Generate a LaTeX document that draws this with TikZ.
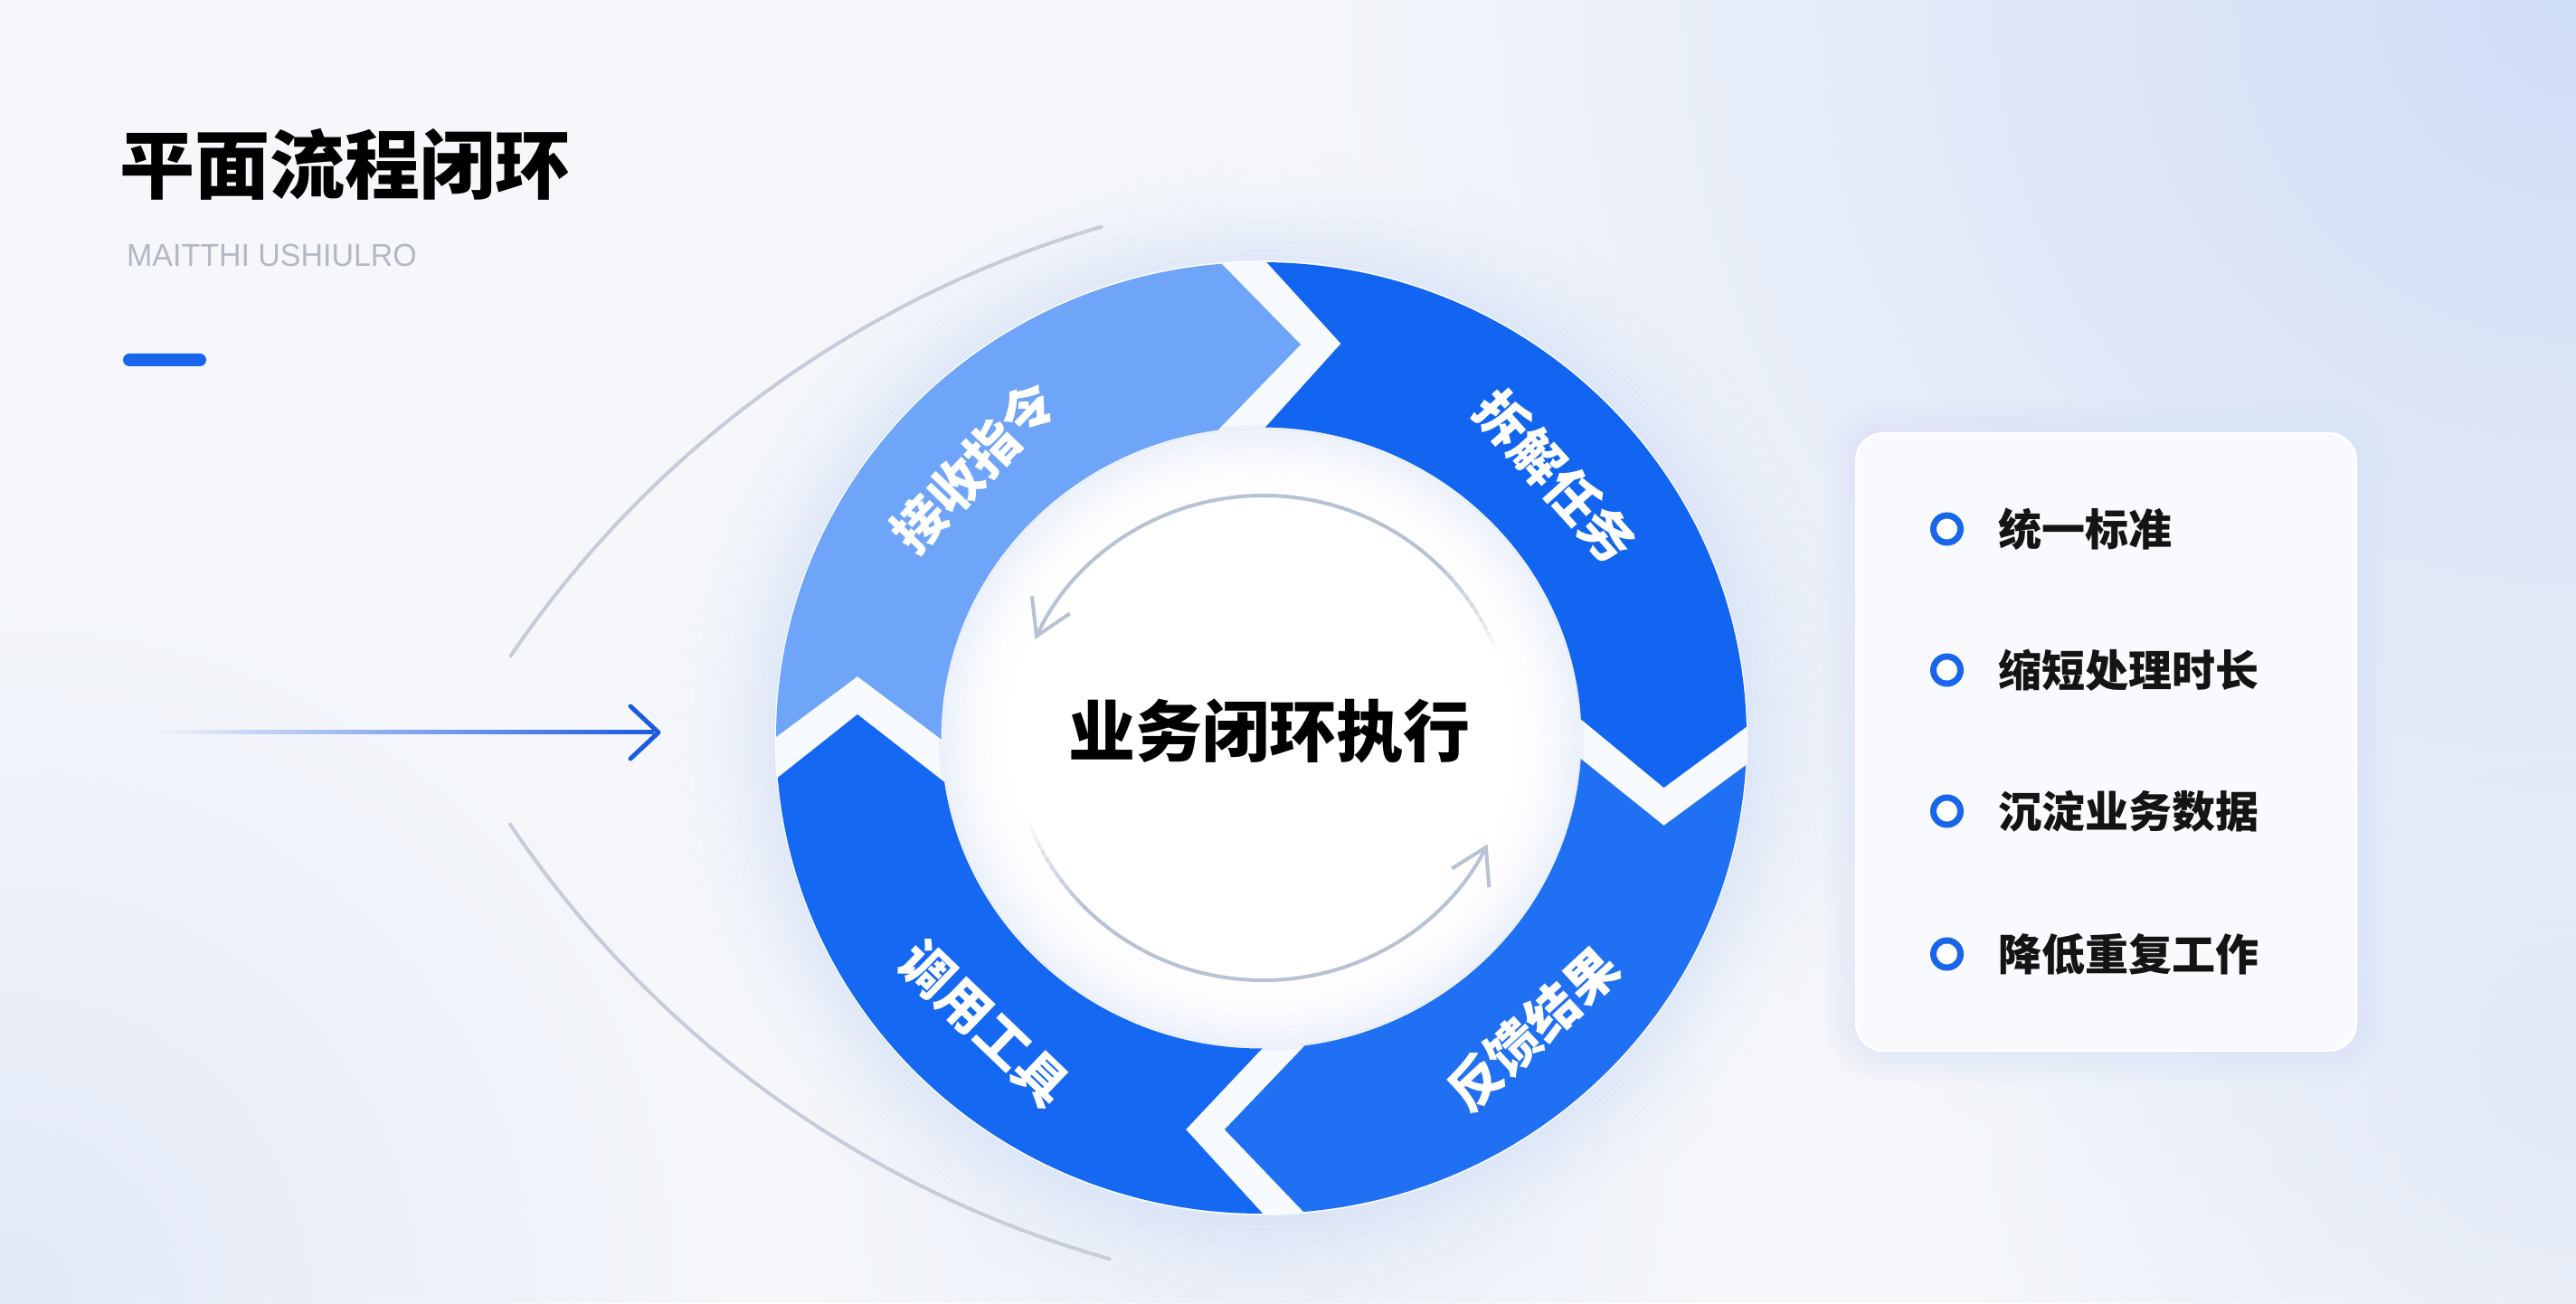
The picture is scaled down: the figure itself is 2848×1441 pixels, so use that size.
\documentclass[tikz,border=0pt]{standalone}
\usepackage{fontspec}
\setmainfont{Liberation Sans}
\newfontfamily\cjk{Noto Sans CJK SC}
\usetikzlibrary{calc,arrows.meta,fadings}
\tikzfading[name=glowfade, inner color=transparent!0, outer color=transparent!100]
\definecolor{bg}{HTML}{F5F7FB}
\definecolor{gapc}{HTML}{F7FAFE}
\definecolor{segLight}{HTML}{6FA5F8}
\definecolor{segTR}{HTML}{1265F1}
\definecolor{segBR}{HTML}{1F70F3}
\definecolor{segBL}{HTML}{1568F2}
\definecolor{hinner}{HTML}{D6E2F7}
\definecolor{hring}{HTML}{C9D9F5}
\definecolor{cornerc}{HTML}{D0DDF6}
\definecolor{sidec}{HTML}{E2E9F7}
\definecolor{arcgray}{HTML}{C6CCD8}
\definecolor{innerarc}{HTML}{B7C2D5}
\definecolor{accent}{HTML}{1766EC}
\definecolor{arrowblue}{HTML}{1C5BDF}
\definecolor{subgray}{HTML}{B3B8C1}
\definecolor{panelfill}{HTML}{F8FAFD}
\definecolor{panelglow}{HTML}{D9E4F7}
\begin{document}
\begin{tikzpicture}[x=1pt,y=1pt,
  seglabel/.style={text=white, font=\cjk\bfseries\fontsize{58}{58}\selectfont, inner sep=0pt},
  itemtext/.style={anchor=west, font=\cjk\bfseries\fontsize{48}{48}\selectfont, text=black!92, inner sep=0pt},
  bulletring/.style={draw=accent, line width=7pt, fill=white, circle, minimum size=30pt, inner sep=0pt},
  grayarc/.style={arcgray, line width=4pt, line cap=round},
  thinarc/.style={innerarc, line width=4pt, line cap=round}
]
\useasboundingbox (0,0) rectangle (2848,1441);
\begin{scope}
\clip (0,0) rectangle (2848,1441);
\fill[bg] (0,0) rectangle (2848,1441);
\fill[cornerc, path fading=glowfade] (2848,1441) circle[radius=1400pt];
\fill[sidec, path fading=glowfade] (0,0) circle[radius=800pt];
\fill[sidec, path fading=glowfade] (2848,250) circle[radius=700pt];
\fill[sidec, opacity=0.6, path fading=glowfade] (1394.5,140) circle[radius=500pt];
\end{scope}

% halo around the ring
\begin{scope}[shift={(1394.5,625)}]
  \foreach \d [evaluate=\d as \op using {0.45*(1-\d/130)^2}] in {0,5,...,125}
    \draw[hring, line width=5.5pt, opacity=\op] (0,0) ellipse [x radius=536.5pt+\d pt, y radius=526pt+\d pt];
  \fill[gapc] (0,0) ellipse [x radius=538pt, y radius=528pt];
  \fill[white] (0,0) ellipse [x radius=356pt, y radius=346pt];
  \foreach \d [evaluate=\d as \op using {0.45*(1-\d/80)^2}] in {0,5,...,75}
    \draw[hinner, line width=5.5pt, opacity=\op] (0,0) ellipse [x radius=354pt-\d pt, y radius=343.5pt-\d pt];
\end{scope}

% title block
\node[font=\cjk\bfseries\fontsize{83}{83}\selectfont, text=black, inner sep=0pt] (title) at (381.5,1259) {平面流程闭环};
\node[anchor=west, text=subgray, font=\fontsize{35}{35}\selectfont, inner sep=0pt] (sub) at (140,1159) {\scalebox{0.97}[1]{MAITTHI USHIULRO}};
\fill[accent, rounded corners=7pt] (136,1036) rectangle (228,1050);

% left gray arcs
\draw[grayarc] ({1550+1191.5*cos(106.2)},{46+1191.5*sin(106.2)}) arc[start angle=106.2, end angle=145.8, radius=1191.5pt];
\draw[grayarc] ({1550+1188*cos(213.9)},{1192+1188*sin(213.9)}) arc[start angle=213.9, end angle=254.2, radius=1188pt];

% incoming blue arrow
\coordinate (arrS) at (160,631);
\coordinate (arrE) at (728,631);
\shade[left color=bg, middle color=arrowblue!55!bg, right color=arrowblue] ($(arrS)+(0,-2)$) rectangle ($(arrE)+(-5,2)$);
\draw[arrowblue, line width=5pt, line cap=round, line join=round] ($(arrE)+(-31,29)$) -- (arrE) -- ($(arrE)+(-31,-29)$);

% ring
\begin{scope}[shift={(1394.5,625)}]
  % top-left (light)
  \begin{scope}
    \clip ($(-446.5,68)!3!(-536.5,1)$) -- (-446.5,68) -- ($(-446.5,68)!2.5!(-354.5,-1)$) -- ($(43.5,435)!2.5!(-45.5,343)$) -- (43.5,435) -- ($(43.5,435)!3!(-45.5,526)$) -- (-900,900) -- cycle;
    \fill[segLight, even odd rule] (0,0) ellipse [x radius=536.5pt, y radius=526pt] (0,0) ellipse [x radius=354pt, y radius=343.5pt];
  \end{scope}
  % top-right
  \begin{scope}
    \clip ($(88,436)!3!(5,527)$) -- (88,436) -- ($(88,436)!2.5!(5,344)$) -- ($(445,-55)!2.5!(353,21)$) -- (445,-55) -- ($(445,-55)!3!(536,12)$) -- (900,900) -- cycle;
    \fill[segTR, even odd rule] (0,0) ellipse [x radius=536.5pt, y radius=526pt] (0,0) ellipse [x radius=354pt, y radius=343.5pt];
  \end{scope}
  % bottom-right
  \begin{scope}
    \clip ($(445,-97)!3!(536,-30)$) -- (445,-97) -- ($(445,-97)!2.5!(353,-23)$) -- ($(-40.5,-433)!2.5!(45.5,-343)$) -- (-40.5,-433) -- ($(-40.5,-433)!3!(48.5,-526)$) -- (900,-900) -- cycle;
    \fill[segBR, even odd rule] (0,0) ellipse [x radius=536.5pt, y radius=526pt] (0,0) ellipse [x radius=354pt, y radius=343.5pt];
  \end{scope}
  % bottom-left
  \begin{scope}
    \clip ($(-83.5,-433)!3!(1.5,-526)$) -- (-83.5,-433) -- ($(-83.5,-433)!2.5!(-1.5,-346)$) -- ($(-446.5,26)!2.5!(-351.5,-48)$) -- (-446.5,26) -- ($(-446.5,26)!3!(-533.5,-43)$) -- (-900,-900) -- cycle;
    \fill[segBL, even odd rule] (0,0) ellipse [x radius=536.5pt, y radius=526pt] (0,0) ellipse [x radius=354pt, y radius=343.5pt];
  \end{scope}

  % segment labels
  \node[seglabel, rotate=46.4] (lab1) at (-318,300) {接收指令};
  \node[seglabel, rotate=-48] (lab2) at (325,289) {拆解任务};
  \node[seglabel, rotate=42.7] (lab3) at (300,-322) {反馈结果};
  \node[seglabel, rotate=-43.8] (lab4) at (-306,-316) {调用工具};

  % inner circular arrows
  \foreach \i [evaluate=\i as \op using (\i+1)/13, evaluate=\i as \sa using 21+2*\i] in {0,...,11}
    \draw[thinarc, line cap=butt, opacity=\op] ({2+276*cos(\sa)},{268*sin(\sa)}) arc[start angle=\sa, end angle=\sa+2.3, x radius=276pt, y radius=268pt];
  \draw[thinarc, -{Straight Barb[length=38pt,width=46pt,line width=4pt]}] ({2+276*cos(45)},{268*sin(45)}) arc[start angle=45, end angle=156, x radius=276pt, y radius=268pt];
  \foreach \i [evaluate=\i as \op using (\i+1)/13, evaluate=\i as \sa using 200+2*\i] in {0,...,11}
    \draw[thinarc, line cap=butt, opacity=\op] ({2+276*cos(\sa)},{268*sin(\sa)}) arc[start angle=\sa, end angle=\sa+2.3, x radius=276pt, y radius=268pt];
  \draw[thinarc, -{Straight Barb[length=38pt,width=46pt,line width=4pt]}] ({2+276*cos(224)},{268*sin(224)}) arc[start angle=224, end angle=334, x radius=276pt, y radius=268pt];

  \node[font=\cjk\bfseries\fontsize{74}{74}\selectfont, text=black, inner sep=0pt] (core) at (8.5,7) {业务闭环执行};
\end{scope}

% right panel
\foreach \k in {1,...,9}
  \fill[panelglow, opacity=0.07, rounded corners={30+4*\k}] ({2052-4*\k},{279-4*\k}) rectangle ({2605+4*\k},{962+4*\k});
\node[draw=white, line width=2pt, fill=panelfill, rounded corners=30pt, minimum width=553pt, minimum height=683pt, inner sep=0pt] (panel) at (2328.5,620.5) {};
\node[bulletring] (b1) at (2152.5,856) {};
\node[bulletring] (b2) at (2152.5,700) {};
\node[bulletring] (b3) at (2152.5,544) {};
\node[bulletring] (b4) at (2152.5,386) {};
\node[itemtext] (t1) at (2209,856) {统一标准};
\node[itemtext] (t2) at (2209,700) {缩短处理时长};
\node[itemtext] (t3) at (2209,544) {沉淀业务数据};
\node[itemtext] (t4) at (2209,386) {降低重复工作};
\end{tikzpicture}
\end{document}
